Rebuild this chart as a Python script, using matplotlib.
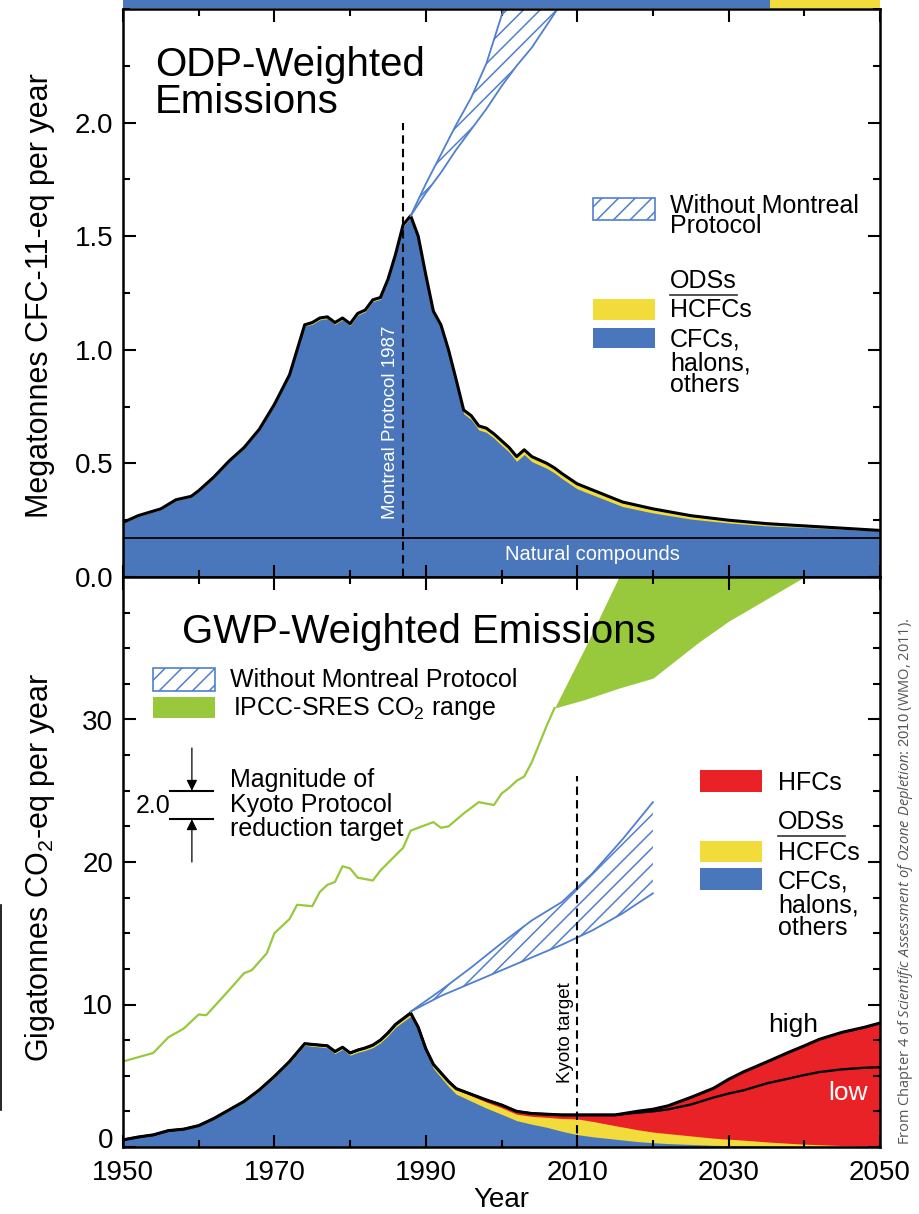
import numpy as np
import matplotlib.pyplot as plt
from matplotlib.patches import Rectangle
from matplotlib.lines import Line2D
from matplotlib.ticker import MultipleLocator
from matplotlib.transforms import ScaledTranslation

plt.rcParams['font.family'] = ['Liberation Sans', 'DejaVu Sans']
plt.rcParams['mathtext.fontset'] = 'custom'
plt.rcParams['mathtext.rm'] = 'Liberation Sans'
plt.rcParams['mathtext.it'] = 'Open Sans:italic'
plt.rcParams['hatch.linewidth'] = 1.1

# ---------------- data: ODP-weighted (Mt CFC-11-eq / yr) ----------------
odp_years = np.array([1950, 1952, 1954, 1955, 1957, 1959, 1960, 1962, 1964, 1966, 1968, 1970,
                      1972, 1973, 1974, 1975, 1976, 1977, 1978, 1979, 1980, 1981, 1982, 1983,
                      1984, 1985, 1986, 1987, 1988, 1989, 1990, 1991, 1992, 1993, 1994, 1995,
                      1996, 1997, 1998, 1999, 2000, 2001, 2002, 2003, 2004, 2005, 2006, 2007,
                      2008, 2010, 2013, 2016, 2020, 2025, 2030, 2035, 2040, 2045, 2050])
odp_total = np.array([0.24, 0.27, 0.29, 0.30, 0.34, 0.355, 0.38, 0.44, 0.51, 0.57, 0.65, 0.76,
                      0.89, 1.00, 1.11, 1.12, 1.14, 1.145, 1.12, 1.14, 1.115, 1.16, 1.175, 1.22,
                      1.23, 1.31, 1.42, 1.55, 1.59, 1.50, 1.33, 1.17, 1.11, 1.00, 0.87, 0.735,
                      0.71, 0.665, 0.655, 0.63, 0.60, 0.57, 0.53, 0.56, 0.53, 0.515, 0.50, 0.48,
                      0.455, 0.41, 0.37, 0.33, 0.30, 0.27, 0.25, 0.235, 0.225, 0.215, 0.205])
odp_hcfc = np.array([0.004, 0.004, 0.004, 0.004, 0.004, 0.004, 0.004, 0.004, 0.004, 0.004, 0.004, 0.004,
                     0.004, 0.004, 0.005, 0.008, 0.008, 0.008, 0.008, 0.008, 0.008, 0.008, 0.008, 0.008,
                     0.008, 0.008, 0.008, 0.008, 0.008, 0.009, 0.01, 0.011, 0.012, 0.013, 0.014, 0.016,
                     0.017, 0.018, 0.018, 0.019, 0.02, 0.02, 0.021, 0.021, 0.022, 0.022, 0.022, 0.022,
                     0.022, 0.022, 0.021, 0.02, 0.018, 0.015, 0.012, 0.01, 0.007, 0.005, 0.003])
odp_natural = 0.17

mp_odp_years = np.array([1988, 1990, 1992, 1994, 1996, 1998, 2000, 2002, 2004, 2006, 2008, 2010])
mp_odp_high = np.array([1.59, 1.73, 1.86, 1.99, 2.11, 2.26, 2.47, 2.68, 2.90, 3.10, 3.30, 3.50])
mp_odp_low = np.array([1.59, 1.69, 1.78, 1.88, 1.97, 2.06, 2.16, 2.25, 2.33, 2.43, 2.53, 2.62])

# ---------------- data: GWP-weighted (Gt CO2-eq / yr) ----------------
gwp_years = np.array([1950, 1952, 1954, 1956, 1958, 1960, 1962, 1964, 1966, 1968, 1970, 1972,
                      1974, 1975, 1976, 1977, 1978, 1979, 1980, 1981, 1982, 1983, 1984, 1985,
                      1986, 1987, 1988, 1989, 1990, 1991, 1992, 1993, 1994, 1995, 1996, 1998,
                      2000, 2002, 2004, 2006, 2008, 2010, 2012, 2015, 2018, 2020, 2022, 2025,
                      2028, 2030, 2032, 2035, 2038, 2040, 2042, 2045, 2048, 2050])
gwp_cfc = np.array([0.5, 0.7, 0.84, 1.13, 1.22, 1.46, 1.95, 2.54, 3.13, 3.92, 4.86, 5.9,
                    7.13, 7.07, 7.02, 6.96, 6.56, 6.85, 6.44, 6.64, 6.78, 6.97, 7.31, 7.8,
                    8.4, 8.79, 9.18, 8.18, 6.65, 5.51, 4.88, 4.25, 3.71, 3.47, 3.22, 2.73,
                    2.3, 1.85, 1.6, 1.38, 1.1, 0.87, 0.72, 0.55, 0.38, 0.3, 0.24, 0.18,
                    0.12, 0.1, 0.08, 0.06, 0.04, 0.03, 0.03, 0.02, 0.01, 0.01])
gwp_hcfc = np.array([0.0, 0.0, 0.01, 0.02, 0.03, 0.04, 0.05, 0.06, 0.07, 0.08, 0.09, 0.1,
                     0.12, 0.13, 0.13, 0.14, 0.14, 0.15, 0.16, 0.16, 0.17, 0.18, 0.19, 0.2,
                     0.2, 0.21, 0.22, 0.22, 0.25, 0.28, 0.3, 0.32, 0.34, 0.36, 0.38, 0.42,
                     0.45, 0.45, 0.55, 0.7, 0.9, 1.1, 1.08, 0.95, 0.83, 0.75, 0.7, 0.6,
                     0.5, 0.45, 0.4, 0.3, 0.22, 0.17, 0.13, 0.08, 0.05, 0.04])
gwp_hfc_high = np.array([0, 0, 0, 0, 0, 0, 0, 0, 0, 0, 0, 0,
                         0, 0, 0, 0, 0, 0, 0, 0, 0, 0, 0, 0,
                         0, 0, 0, 0, 0.0, 0.01, 0.02, 0.03, 0.05, 0.07, 0.1, 0.15,
                         0.2, 0.2, 0.2, 0.22, 0.25, 0.28, 0.45, 0.75, 1.3, 1.6, 1.95, 2.7,
                         3.5, 4.2, 4.8, 5.6, 6.4, 6.9, 7.4, 7.95, 8.35, 8.65])
gwp_hfc_low = np.array([0, 0, 0, 0, 0, 0, 0, 0, 0, 0, 0, 0,
                        0, 0, 0, 0, 0, 0, 0, 0, 0, 0, 0, 0,
                        0, 0, 0, 0, 0.0, 0.01, 0.02, 0.03, 0.05, 0.07, 0.1, 0.15,
                        0.2, 0.2, 0.2, 0.22, 0.25, 0.28, 0.45, 0.75, 1.2, 1.45, 1.7, 2.2,
                        2.85, 3.2, 3.5, 4.1, 4.55, 4.85, 5.1, 5.35, 5.5, 5.55])

mp_gwp_years = np.array([1988, 1992, 1996, 2000, 2004, 2008, 2012, 2016, 2020])
mp_gwp_high = np.array([9.5, 11.0, 12.6, 14.3, 15.9, 17.2, 19.2, 21.6, 24.2])
mp_gwp_low = np.array([9.5, 10.6, 11.5, 12.4, 13.3, 14.2, 15.2, 16.4, 17.8])

co2_years = np.array([1950, 1954, 1956, 1958, 1960, 1961, 1964, 1966, 1967, 1969, 1970, 1972,
                      1973, 1975, 1976, 1977, 1978, 1979, 1980, 1981, 1983, 1984, 1987, 1988,
                      1989, 1991, 1992, 1993, 1995, 1997, 1999, 2000, 2001, 2002, 2003, 2004,
                      2005, 2006, 2007])
co2_values = np.array([6.0, 6.6, 7.7, 8.3, 9.3, 9.25, 11.0, 12.2, 12.4, 13.6, 15.0, 16.0,
                       17.0, 16.9, 17.9, 18.4, 18.6, 19.7, 19.55, 18.9, 18.7, 19.4, 21.0, 22.2,
                       22.4, 22.8, 22.4, 22.5, 23.4, 24.2, 24.0, 24.8, 25.2, 25.7, 26.0, 27.0,
                       28.3, 29.6, 30.8])

ipcc_years = np.array([2007, 2011, 2015.5, 2020, 2026, 2030, 2040, 2050])
ipcc_low = np.array([30.8, 31.4, 32.2, 32.9, 35.4, 36.9, 40.0, 43.0])
ipcc_high = np.array([30.8, 35.0, 40.0, 44.5, 51.0, 55.0, 60.0, 65.0])

kyoto_year = 2010
kyoto_low, kyoto_high = 23.0, 25.0   # 2.0 Gt reduction target
montreal_year = 1987

BLUE = '#4a77bb'
YELLOW = '#f1dc3b'
RED = '#e92228'
GREEN = '#98c93c'
HATCH = '#4f7fcf'

W, H = 920, 1214
fig = plt.figure(figsize=(W / 100, H / 100), dpi=100)


def fx(px):
    return px / W


def fy(py):
    return 1 - py / H


def patch(x0, y0, x1, y1, **kw):
    fig.add_artist(Rectangle((fx(x0), fy(y1)), (x1 - x0) / W, (y1 - y0) / H,
                             transform=fig.transFigure, **kw))


def label(x, y, s, size=18, **kw):
    fig.text(fx(x), fy(y), s, va='baseline', ha='left', size=size, **kw)


def hline(x0, x1, y, **kw):
    fig.add_artist(Line2D([fx(x0), fx(x1)], [fy(y), fy(y)], transform=fig.transFigure, **kw))


ax1 = fig.add_axes([fx(123), fy(577), fx(880) - fx(123), fy(9) - fy(577)])
ax2 = fig.add_axes([fx(123), fy(1147), fx(880) - fx(123), fy(577) - fy(1147)])

# ---------------- top panel ----------------
ax1.fill_between(odp_years, 0, odp_total, color=YELLOW, lw=0)
ax1.fill_between(odp_years, 0, odp_total - odp_hcfc, color=BLUE, lw=0)
ax1.axhline(odp_natural, color='k', lw=1.3)
ax1.plot(odp_years, odp_total, color='k', lw=2.2)
ax1.fill_between(mp_odp_years, mp_odp_low, mp_odp_high, facecolor='none',
                 edgecolor=HATCH, hatch='//', lw=0)
ax1.plot(mp_odp_years, mp_odp_high, color=HATCH, lw=1.3)
ax1.plot(mp_odp_years, mp_odp_low, color=HATCH, lw=1.3)
ax1.plot([montreal_year, montreal_year], [0, 2.0], color='k', lw=1.5, dashes=(4, 2.5))
ax1.text(1985.3, 0.68, 'Montreal Protocol 1987', rotation=90, color='white',
         ha='center', va='center', size=13.5)
ax1.text(2012, 0.10, 'Natural compounds', color='white', ha='center', va='center', size=14.5)
ax1.set_xlim(1950, 2050)
ax1.set_ylim(0, 2.5)
ax1.set_yticks([0, 0.5, 1.0, 1.5, 2.0])
ax1.set_yticklabels(['0.0', '0.5', '1.0', '1.5', '2.0'])
ax1.yaxis.set_minor_locator(MultipleLocator(0.25))

# ---------------- bottom panel ----------------
gwp_ods = gwp_cfc + gwp_hcfc
gwp_tot_high = gwp_ods + gwp_hfc_high
gwp_tot_low = gwp_ods + gwp_hfc_low
ax2.fill_between(gwp_years, 0, gwp_tot_high, color=RED, lw=0)
ax2.fill_between(gwp_years, 0, gwp_ods, color=YELLOW, lw=0)
ax2.fill_between(gwp_years, 0, gwp_cfc, color=BLUE, lw=0)
ax2.plot(gwp_years, gwp_tot_low, color='k', lw=1.7)
ax2.plot(gwp_years, gwp_tot_high, color='k', lw=2.2)
ax2.fill_between(mp_gwp_years, mp_gwp_low, mp_gwp_high, facecolor='none',
                 edgecolor=HATCH, hatch='//', lw=0)
ax2.plot(mp_gwp_years, mp_gwp_high, color=HATCH, lw=1.3)
ax2.plot(mp_gwp_years, mp_gwp_low, color=HATCH, lw=1.3)
ax2.fill_between(ipcc_years, ipcc_low, ipcc_high, color=GREEN, lw=0)
ax2.plot(co2_years, co2_values, color=GREEN, lw=1.6)
ax2.plot([kyoto_year, kyoto_year], [0, 26], color='k', lw=1.5, dashes=(4, 2.5))
ax2.text(2008.4, 8.05, 'Kyoto target', rotation=90, ha='center', va='center', size=13.5)
ax2.text(2038.5, 8.55, 'high', ha='center', va='center', size=19)
ax2.text(2045.8, 3.8, 'low', ha='center', va='center', size=19, color='white')

# Kyoto magnitude marker
ax2.plot([1956.2, 1961.9], [kyoto_high, kyoto_high], color='k', lw=1.5)
ax2.plot([1956.2, 1961.9], [kyoto_low, kyoto_low], color='k', lw=1.5)
arrow = dict(arrowstyle='-|>', color='k', lw=0.9, mutation_scale=16, shrinkA=0, shrinkB=0)
ax2.annotate('', xy=(1959.1, kyoto_high), xytext=(1959.1, kyoto_high + 3), arrowprops=arrow)
ax2.annotate('', xy=(1959.1, kyoto_low), xytext=(1959.1, kyoto_low - 3), arrowprops=arrow)
ax2.text(1954.0, 23.9, '%.1f' % (kyoto_high - kyoto_low), ha='center', va='center', size=18)

ax2.set_xlim(1950, 2050)
ax2.set_ylim(0, 40)
ax2.set_yticks([0, 10, 20, 30])
ax2.yaxis.set_minor_locator(MultipleLocator(2.5))
ax2.set_xlabel('Year', size=20, labelpad=1)

for ax in (ax1, ax2):
    ax.set_xticks(range(1950, 2051, 20))
    ax.set_xticks(range(1960, 2050, 20), minor=True)
    ax.tick_params(which='both', direction='in', top=True, right=True, width=1.5,
                   labelsize=20, pad=7)
    ax.tick_params(which='major', length=9)
    ax.tick_params(which='minor', length=5)
    for s in ax.spines.values():
        s.set_linewidth(1.8)
ax1.tick_params(axis='x', labelbottom=False)
ax2.tick_params(axis='x', pad=9)

# the "0" of the lower panel sits a little higher, clear of the 1950 label
zero_lab = ax2.get_yticklabels()[0]
zero_lab.set_transform(zero_lab.get_transform() + ScaledTranslation(0, 0.09, fig.dpi_scale_trans))

# axis titles
fig.text(fx(40), fy(296), 'Megatonnes CFC-11-eq per year', rotation=90,
         ha='center', va='center', size=22)
fig.text(fx(40), fy(867), 'Gigatonnes CO$_2$-eq per year', rotation=90,
         ha='center', va='center', size=22)

# panel titles
label(155, 76, 'ODP-Weighted', size=29)
label(155, 113, 'Emissions', size=29)
label(182, 643, 'GWP-Weighted Emissions', size=29)

# top legend
patch(593, 198, 655, 220, facecolor='white', edgecolor=HATCH, hatch='//', lw=1.2)
fig.text(fx(670), fy(194), 'Without Montreal\nProtocol', va='top', ha='left',
         size=18, linespacing=0.78)
label(670, 288, 'ODSs')
hline(670, 737, 295, color='#333333', lw=1.2)
patch(593, 299, 655, 320, color=YELLOW, lw=0)
label(670, 317, 'HCFCs')
patch(593, 328, 655, 348, color=BLUE, lw=0)
label(670, 346, 'CFCs,')
label(670, 370, 'halons,')
label(670, 392, 'others')

# bottom-left legend
patch(153, 668, 215, 691, facecolor='white', edgecolor=HATCH, hatch='//', lw=1.2)
label(230, 687, 'Without Montreal Protocol')
patch(153, 697, 215, 718, color=GREEN, lw=0)
label(233, 715, 'IPCC-SRES CO$_2$ range')

label(230, 787, 'Magnitude of')
label(230, 812, 'Kyoto Protocol')
label(230, 836, 'reduction target')

# bottom-right legend
patch(700, 770, 762, 792, color=RED, lw=0)
label(778, 790, 'HFCs')
label(778, 829, 'ODSs')
hline(778, 845, 836, color='#333333', lw=1.2)
patch(700, 841, 762, 862, color=YELLOW, lw=0)
label(778, 860, 'HCFCs')
patch(700, 868, 762, 890, color=BLUE, lw=0)
label(778, 889, 'CFCs,')
label(778, 912, 'halons,')
label(778, 935, 'others')

# source credit
fig.text(fx(906), fy(1145),
         r'From Chapter 4 of $\mathit{Scientific\ Assessment\ of\ Ozone\ Depletion}$: $\mathit{2010}$ (WMO, 2011).',
         rotation=90, ha='center', va='bottom', size=10.5, color='#555555', family='Open Sans')

# cropped remnants at the edges of the original picture
patch(123, 0, 770, 8, color=BLUE, lw=0)
patch(770, 0, 880, 8, color=YELLOW, lw=0)
fig.add_artist(Line2D([fx(1.5), fx(1.5)], [fy(905), fy(1110)], transform=fig.transFigure,
                      color='k', lw=1.2))

fig.savefig('out.png', dpi=100)
